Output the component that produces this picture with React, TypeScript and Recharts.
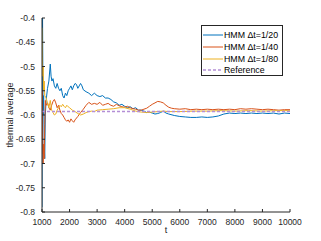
import React from "react";
import { LineChart, Line, XAxis, YAxis } from "recharts";

const xTicks = [1000, 2000, 3000, 4000, 5000, 6000, 7000, 8000, 9000, 10000];
const yTicks = [-0.8, -0.75, -0.7, -0.65, -0.6, -0.55, -0.5, -0.45, -0.4];

const blueT = [1000,1010,1020,1040,1060,1080,1100,1120,1150,1200,1250,1300,1330,1360,1400,1450,1500,1550,1600,1650,1700,1750,1800,1850,1900,1950,2000,2050,2100,2150,2200,2250,2300,2350,2400,2450,2500,2600,2700,2800,2900,3000,3100,3200,3300,3400,3500,3600,3700,3800,3900,4000,4100,4200,4300,4400,4500,4600,4700,4800,4900,5000,5100,5200,5300,5400,5500,5600,5800,6000,6200,6400,6600,6800,7000,7200,7400,7600,7800,8000,8200,8400,8600,8800,9000,9200,9400,9600,9800,10000];
const blueV = [-0.79,-0.45,-0.40,-0.60,-0.56,-0.66,-0.69,-0.60,-0.57,-0.545,-0.53,-0.495,-0.52,-0.53,-0.525,-0.54,-0.545,-0.535,-0.545,-0.55,-0.545,-0.56,-0.565,-0.555,-0.56,-0.55,-0.545,-0.54,-0.548,-0.54,-0.535,-0.537,-0.545,-0.54,-0.535,-0.54,-0.548,-0.552,-0.555,-0.56,-0.555,-0.56,-0.562,-0.56,-0.565,-0.565,-0.568,-0.573,-0.575,-0.58,-0.578,-0.582,-0.585,-0.583,-0.587,-0.585,-0.59,-0.59,-0.592,-0.595,-0.594,-0.596,-0.598,-0.597,-0.595,-0.592,-0.596,-0.598,-0.601,-0.603,-0.604,-0.605,-0.605,-0.604,-0.605,-0.604,-0.602,-0.598,-0.596,-0.597,-0.596,-0.597,-0.596,-0.597,-0.596,-0.597,-0.596,-0.598,-0.596,-0.597];

const orangeT = [1000,1010,1020,1040,1060,1080,1100,1120,1150,1200,1250,1300,1350,1400,1450,1500,1550,1600,1650,1700,1750,1800,1850,1900,1950,2000,2050,2100,2150,2200,2300,2400,2500,2600,2700,2800,2900,3000,3100,3200,3300,3400,3500,3600,3700,3800,3900,4000,4100,4200,4300,4400,4500,4600,4700,4800,4900,5000,5100,5200,5300,5400,5500,5600,5700,5800,6000,6200,6400,6600,6800,7000,7200,7400,7600,7800,8000,8200,8400,8600,8800,9000,9200,9400,9600,9800,10000];
const orangeV = [-0.68,-0.55,-0.62,-0.70,-0.66,-0.69,-0.62,-0.57,-0.58,-0.575,-0.585,-0.59,-0.58,-0.572,-0.568,-0.575,-0.585,-0.58,-0.59,-0.597,-0.60,-0.605,-0.61,-0.613,-0.61,-0.615,-0.608,-0.612,-0.615,-0.61,-0.603,-0.595,-0.588,-0.58,-0.574,-0.578,-0.576,-0.578,-0.574,-0.58,-0.578,-0.576,-0.58,-0.582,-0.578,-0.581,-0.583,-0.584,-0.582,-0.585,-0.587,-0.588,-0.59,-0.59,-0.588,-0.586,-0.582,-0.578,-0.575,-0.572,-0.573,-0.575,-0.58,-0.584,-0.586,-0.587,-0.588,-0.587,-0.589,-0.588,-0.589,-0.588,-0.589,-0.588,-0.589,-0.588,-0.589,-0.587,-0.588,-0.587,-0.588,-0.589,-0.588,-0.589,-0.59,-0.589,-0.589];

const yellowT = [1000,1010,1020,1040,1060,1080,1100,1150,1200,1250,1300,1350,1400,1450,1500,1550,1600,1650,1700,1750,1800,1850,1900,1950,2000,2100,2200,2300,2400,2500,2600,2700,2800,2900,3000,3200,3400,3600,3800,4000,4200,4400,4600,4800,5000,5200,5400,5600,6000,6500,7000,7500,8000,8500,9000,9500,10000];
const yellowV = [-0.42,-0.48,-0.52,-0.50,-0.55,-0.53,-0.56,-0.565,-0.575,-0.585,-0.57,-0.59,-0.595,-0.6,-0.598,-0.59,-0.585,-0.58,-0.583,-0.578,-0.582,-0.585,-0.58,-0.583,-0.585,-0.59,-0.593,-0.597,-0.6,-0.598,-0.595,-0.593,-0.592,-0.593,-0.59,-0.589,-0.588,-0.587,-0.585,-0.585,-0.588,-0.592,-0.594,-0.595,-0.594,-0.593,-0.592,-0.593,-0.593,-0.592,-0.592,-0.591,-0.592,-0.591,-0.592,-0.591,-0.591];

const refT = [1000, 10000];
const refV = [-0.593, -0.593];

const seriesNames = ["HMM \u0394t=1/20", "HMM \u0394t=1/40", "HMM \u0394t=1/80", "Reference"];
const seriesColors = ["#0072BD", "#D95319", "#EDB120", "#B48ED6"];

const toData = (t: number[], v: number[]) => t.map((x, i) => ({ t: x, v: v[i] }));

const FONT = "'Liberation Sans', Arial, sans-serif";
const AXIS = "#262626";

const LegendBox = () => (
  <div
    style={{
      position: "absolute",
      left: 201,
      top: 25,
      width: 82,
      height: 51,
      border: "1px solid #262626",
      background: "#fff",
      fontFamily: FONT,
      fontSize: 8.8,
      color: "#000",
      boxSizing: "border-box",
    }}
  >
    {seriesNames.map((n, i) => (
      <div key={n} style={{ position: "absolute", left: 1, top: 4 + i * 11.8, height: 10, display: "flex", alignItems: "center", whiteSpace: "nowrap" }}>
        <svg width={20} height={6} style={{ marginRight: 1 }}>
          <line x1={0} y1={3} x2={20} y2={3} stroke={seriesColors[i]} strokeWidth={i === 3 ? 1.5 : 1} strokeDasharray={i === 3 ? "3 2" : undefined} />
        </svg>
        <span>{n}</span>
      </div>
    ))}
  </div>
);

export default function App() {
  return (
    <div style={{ position: "absolute", left: 0, top: 0, width: 321, height: 241, background: "#fff" }}>
      <LineChart width={321} height={241} margin={{ top: 18, right: 31, bottom: 0, left: 0 }}>
        <XAxis
          xAxisId="b"
          dataKey="t"
          type="number"
          domain={[1000, 10000]}
          ticks={xTicks}
          allowDataOverflow
          stroke={AXIS}
          tickSize={-3}
          tickMargin={10}
          tick={{ fontSize: 8.5, fill: "#262626", fontFamily: FONT }}
          label={{ value: "t", position: "insideBottom", offset: 8, fontSize: 9, fill: "#262626", fontFamily: FONT }}
          height={29}
        />
        <XAxis
          xAxisId="top"
          orientation="top"
          dataKey="t"
          type="number"
          domain={[1000, 10000]}
          ticks={xTicks}
          allowDataOverflow
          stroke={AXIS}
          tickSize={-3}
          tick={false}
          height={0}
        />
        <YAxis
          yAxisId="l"
          dataKey="v"
          type="number"
          domain={[-0.8, -0.4]}
          ticks={yTicks}
          allowDataOverflow
          stroke={AXIS}
          tickSize={-3}
          tickMargin={10}
          width={42}
          tickFormatter={(v: number) => String(Number(v.toFixed(2)))}
          tick={{ fontSize: 8.5, fill: "#262626", fontFamily: FONT }}
          label={{ value: "thermal average", angle: -90, position: "insideLeft", offset: 10, fontSize: 9, fill: "#262626", fontFamily: FONT, style: { textAnchor: "middle" } }}
        />
        <YAxis
          yAxisId="r"
          orientation="right"
          dataKey="v"
          type="number"
          domain={[-0.8, -0.4]}
          ticks={yTicks}
          allowDataOverflow
          stroke={AXIS}
          tickSize={-3}
          tick={false}
          width={0}
        />
        <Line xAxisId="b" yAxisId="l" data={toData(blueT, blueV)} dataKey="v" stroke={seriesColors[0]} strokeWidth={1} dot={false} isAnimationActive={false} />
        <Line xAxisId="b" yAxisId="l" data={toData(orangeT, orangeV)} dataKey="v" stroke={seriesColors[1]} strokeWidth={1} dot={false} isAnimationActive={false} />
        <Line xAxisId="b" yAxisId="l" data={toData(yellowT, yellowV)} dataKey="v" stroke={seriesColors[2]} strokeWidth={1} dot={false} isAnimationActive={false} />
        <Line xAxisId="b" yAxisId="l" data={toData(refT, refV)} dataKey="v" stroke={seriesColors[3]} strokeWidth={1.5} strokeDasharray="3 2" dot={false} isAnimationActive={false} />
      </LineChart>
      <LegendBox />
    </div>
  );
}
